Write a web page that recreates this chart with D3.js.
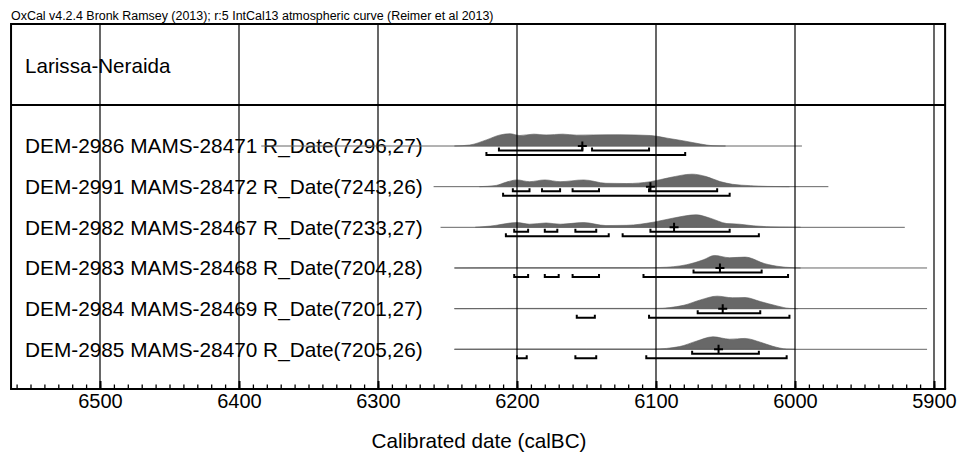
<!DOCTYPE html>
<html>
<head>
<meta charset="utf-8">
<script src="https://cdn.jsdelivr.net/npm/d3@7"></script>
<style>
  html, body { margin: 0; padding: 0; background: #fff; }
  svg { display: block; }
  text { font-family: Arial, "Liberation Sans", sans-serif; fill: #000; }
</style>
</head>
<body>
<svg id="chart" width="958" height="453"></svg>
<script>
// ---------------- DATA ----------------
const headerNote = "OxCal v4.2.4 Bronk Ramsey (2013); r:5 IntCal13 atmospheric curve (Reimer et al 2013)";
const groupTitle = "Larissa-Neraida";
const axisTitle = "Calibrated date (calBC)";

const labels = [
  "DEM-2986 MAMS-28471 R_Date(7296,27)",
  "DEM-2991 MAMS-28472 R_Date(7243,26)",
  "DEM-2982 MAMS-28467 R_Date(7233,27)",
  "DEM-2983 MAMS-28468 R_Date(7204,28)",
  "DEM-2984 MAMS-28469 R_Date(7201,27)",
  "DEM-2985 MAMS-28470 R_Date(7205,26)"
];

const majorTicks = [6500, 6400, 6300, 6200, 6100, 6000, 5900];
const yearDomain = [6564, 5892];

// extent of the thin baseline drawn for each date (calBC)
const lineExtents = [[6384, 5995], [6260, 5976], [6255, 5921], [6245, 5905], [6245, 5905], [6245, 5905]];

// "+" marker (mean) for each date
const markYears = [6153, 6104, 6087, 6054, 6052, 6055];

// 68.2% ranges
const sigma1 = [
  [[6213, 6153], [6146, 6105]],
  [[6203, 6191], [6182, 6169], [6160, 6141], [6105, 6056]],
  [[6202, 6192], [6180, 6171], [6158, 6143], [6104, 6047]],
  [[6073, 6024]],
  [[6070, 6025]],
  [[6074, 6026]]
];

// 95.4% ranges
const sigma2 = [
  [[6222, 6079]],
  [[6210, 6047]],
  [[6208, 6134], [6124, 6026]],
  [[6202, 6192], [6180, 6170], [6160, 6141], [6109, 6005]],
  [[6157, 6144], [6105, 6004]],
  [[6200, 6193], [6158, 6143], [6107, 6006]]
];

// relative probability densities [year calBC, relative probability]
const dens2986 = [[6245,0],[6234,0.08],[6222,0.49],[6212,0.89],[6205,0.98],[6198,0.84],[6188,0.95],[6179,0.89],[6167,0.95],[6157,0.87],[6145,0.89],[6126,0.9],[6104,0.84],[6092,0.63],[6080,0.41],[6068,0.16],[6059,0.02],[6050,0]];
const dens2991 = [[6227,0],[6215,0.1],[6208,0.35],[6200,0.54],[6191,0.4],[6180,0.54],[6169,0.4],[6152,0.54],[6136,0.27],[6121,0.25],[6104,0.4],[6090,0.73],[6074,1.0],[6064,0.81],[6054,0.41],[6045,0.19],[6032,0.08],[6020,0.02],[6004,0]];
const dens2982 = [[6230,0],[6219,0.1],[6200,0.38],[6191,0.25],[6179,0.35],[6169,0.25],[6152,0.38],[6136,0.14],[6121,0.16],[6102,0.41],[6088,0.73],[6071,1.0],[6061,0.73],[6049,0.3],[6040,0.25],[6030,0.12],[6011,0.02],[5996,0]];
const dens2983 = [[6245,0],[6200,0.02],[6140,0.02],[6112,0.02],[6097,0.04],[6078,0.26],[6066,0.65],[6058,1.0],[6047,0.82],[6036,0.87],[6030,0.72],[6025,0.47],[6013,0.14],[6001,0.02],[5996,0]];
const dens2984 = [[6245,0],[6200,0.02],[6150,0.02],[6100,0.02],[6080,0.27],[6068,0.7],[6056,1.0],[6045,0.87],[6036,0.89],[6025,0.57],[6013,0.22],[6004,0.02],[5998,0]];
const dens2985 = [[6245,0],[6200,0.02],[6150,0.02],[6102,0.02],[6083,0.22],[6071,0.65],[6059,1.0],[6047,0.81],[6036,0.87],[6025,0.57],[6016,0.24],[6006,0.02],[6000,0]];
const densities = [dens2986, dens2991, dens2982, dens2983, dens2984, dens2985];

// ---------------- LAYOUT ----------------
const svg = d3.select("#chart");
const x = d3.scaleLinear().domain([6500, 5900]).range([100, 934]);
const frameTop = 24, sepY = 105, axisY = 389;
const y = d3.scalePoint().domain(labels).range([146, 349.3]);
const h = d3.scaleLinear().domain([0, 1]).range([0, 12.5]);
const xl = x(yearDomain[0]), xr = x(yearDomain[1]);

// header note
svg.append("text").attr("x", 11).attr("y", 20).style("font-size", "12.45px").text(headerNote);

// group title
svg.append("text").attr("x", 25).attr("y", 72.5).style("font-size", "20.6px").text(groupTitle);

// row labels
svg.append("g").selectAll("text").data(labels).join("text")
  .attr("x", 25).attr("y", d => y(d) + 7.3)
  .style("font-size", "20.8px").text(d => d);

// densities
const area = d3.area()
  .x(d => x(d[0]))
  .y0(0)
  .y1(d => -h(d[1]))
  .curve(d3.curveMonotoneX);

const rows = svg.append("g").selectAll("g").data(labels).join("g")
  .attr("transform", d => `translate(0,${y(d)})`);

rows.append("path")
  .attr("d", (d, i) => area(densities[i]))
  .attr("fill", "#686868")
  .attr("stroke", "#5a5a5a")
  .attr("stroke-width", 0.6);

// baseline lines
rows.append("line")
  .attr("x1", (d, i) => x(lineExtents[i][0]))
  .attr("x2", (d, i) => x(lineExtents[i][1]))
  .attr("y1", 0).attr("y2", 0)
  .attr("stroke", "#666").attr("stroke-width", 1);

// brackets
function bracketPath(r, yy) {
  const a = x(r[0]), b = x(r[1]);
  return `M${a},${yy - 3}V${yy}H${b}V${yy - 3}`;
}
rows.each(function (d, i) {
  const g = d3.select(this);
  g.selectAll("path.s1").data(sigma1[i]).join("path").attr("class", "s1")
    .attr("d", r => bracketPath(r, 4.5))
    .attr("fill", "none").attr("stroke", "#000").attr("stroke-width", 2);
  g.selectAll("path.s2").data(sigma2[i]).join("path").attr("class", "s2")
    .attr("d", r => bracketPath(r, 9))
    .attr("fill", "none").attr("stroke", "#000").attr("stroke-width", 2);
  const mx = x(markYears[i]);
  g.append("path")
    .attr("d", `M${mx - 4.5},0H${mx + 4.5}M${mx},-4.5V4.5`)
    .attr("stroke", "#000").attr("stroke-width", 2).attr("fill", "none");
});

// gridlines
svg.append("g").selectAll("line").data(majorTicks).join("line")
  .attr("x1", d => x(d)).attr("x2", d => x(d))
  .attr("y1", frameTop).attr("y2", axisY)
  .attr("stroke", "#000").attr("stroke-width", 1.2);

// frame
svg.append("path")
  .attr("d", `M${xl},${axisY}V${frameTop}H${xr}V${axisY}`)
  .attr("fill", "none").attr("stroke", "#000").attr("stroke-width", 2);
svg.append("line").attr("x1", xl).attr("x2", xr).attr("y1", sepY).attr("y2", sepY)
  .attr("stroke", "#000").attr("stroke-width", 2);

// axis: minor ticks every 10 years
const minorTicks = d3.range(6560, 5890, -10);
const minorAxis = d3.axisBottom(x).tickValues(minorTicks).tickSizeInner(-4.5).tickSizeOuter(0).tickFormat("");
const gMinor = svg.append("g").attr("transform", `translate(0,${axisY})`).call(minorAxis);
gMinor.select(".domain").remove();
gMinor.selectAll(".tick line").attr("stroke", "#000").attr("stroke-width", 1.3);

const majorAxis = d3.axisBottom(x).tickValues(majorTicks).tickSizeInner(-8).tickSizeOuter(0).tickPadding(4.5).tickFormat(d3.format("d"));
const gMajor = svg.append("g").attr("transform", `translate(0,${axisY})`).call(majorAxis);
gMajor.select(".domain").remove();
gMajor.selectAll(".tick line").attr("stroke", "#000").attr("stroke-width", 2);
gMajor.selectAll(".tick text").style("font-size", "20px").style("font-family", "Arial, 'Liberation Sans', sans-serif").attr("fill", "#000");

// axis line
svg.append("line").attr("x1", xl - 1).attr("x2", xr + 1).attr("y1", axisY).attr("y2", axisY)
  .attr("stroke", "#000").attr("stroke-width", 2);

// axis title
svg.append("text").attr("x", 479).attr("y", 448).attr("text-anchor", "middle")
  .style("font-size", "20.7px").text(axisTitle);
</script>
</body>
</html>
